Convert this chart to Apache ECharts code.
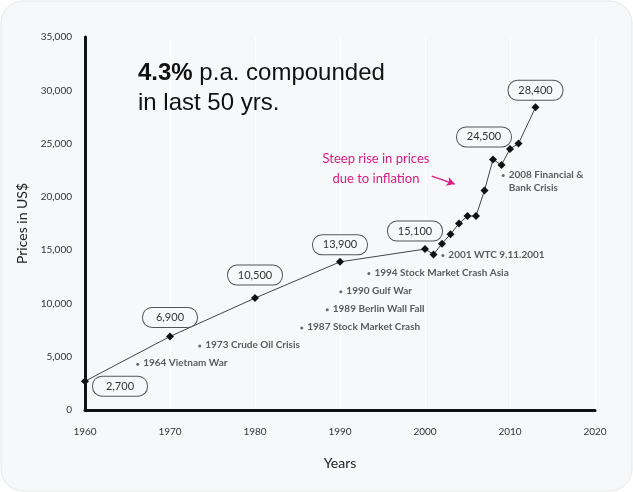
<!DOCTYPE html>
<html><head><meta charset="utf-8">
<script src="https://cdn.jsdelivr.net/npm/echarts@6/dist/echarts.min.js"></script>
<style>html,body{margin:0;padding:0;background:#ffffff;}#c{width:633px;height:492px;}</style>
</head><body><div id="c"></div>
<script>
const years = [1960,1970,1980,1990,2000,2001,2002,2003,2004,2005,2006,2007,2008,2009,2010,2011,2013];
const prices = [2700,6900,10500,13900,15100,14600,15600,16500,17500,18200,18200,20600,23500,23000,24500,25000,28400];
const boxedYears = [1960,1970,1980,1990,2000,2010,2013];
const boxOffsets = [[35,5],[0,-19],[0,-23],[0,-17],[-10,-18],[-26,-12],[0,-17]];
const eventNames = ['1964 Vietnam War','1973 Crude Oil Crisis','1987 Stock Market Crash','1989 Berlin Wall Fall','1990 Gulf War','1994 Stock Market Crash Asia','2001 WTC 9.11.2001','2008 Financial &\nBank Crisis'];
const eventX = [1966.2,1973.5,1985.5,1988.5,1990.1,1993.4,2002.1,2009.2];
const eventY = [4300,6000,7700,9400,11100,12800,14500,22000];
const xTicks = [1960,1970,1980,1990,2000,2010,2020];
const yTicks = [0,5000,10000,15000,20000,25000,30000,35000];

const fmt = v => v.toLocaleString('en-US');
const lineData = years.map((y,i) => {
  const bi = boxedYears.indexOf(y);
  const item = {value:[y, prices[i]]};
  if (bi >= 0) {
    item.label = {
      show:true, position:'inside', offset:boxOffsets[bi],
      formatter: fmt(prices[i]),
      fontFamily:'Lato', fontSize:11, color:'#333',
      backgroundColor:'#f7f8f9', borderColor:'#555', borderWidth:1, borderRadius:9,
      width:54, align:'center', lineHeight:14, padding:[3,0,2,0]
    };
  }
  return item;
});
const eventData = eventNames.map((n,i)=>({name:n, value:[eventX[i], eventY[i]]}));

const chart = echarts.init(document.getElementById('c'), null, {renderer:'canvas'});
chart.setOption({
  animation:false,
  backgroundColor:'transparent',
  graphic:[
    {type:'rect', z:-10, silent:true, shape:{x:1,y:1,width:631,height:490,r:22},
     style:{fill:'#f7f8f9', stroke:'#e6e7e8', lineWidth:1}},
    {type:'text', left:138, top:58, z:10, style:{
      text:'{b|4.3%} p.a. compounded\nin last 50 yrs.',
      rich:{b:{fontWeight:'bold', fontSize:24, fontFamily:'Liberation Sans', fill:'#111'}},
      fontSize:24, fontFamily:'Liberation Sans', fill:'#111', lineHeight:30}},
    {type:'text', left:320, top:149, z:10, style:{
      text:'Steep rise in prices\ndue to inflation', align:'center', textAlign:'center',
      fontSize:13, fontFamily:'Lato', fill:'#d81b84', lineHeight:20, width:112}}
  ],
  grid:{left:85, right:38, top:37, bottom:82},
  xAxis:{type:'value', min:1960, max:2020, interval:10,
    axisLine:{show:true, lineStyle:{color:'#111', width:3}},
    axisTick:{show:false},
    axisLabel:{fontFamily:'Lato', fontSize:10, color:'#333', margin:17, formatter:v=>String(v)},
    splitLine:{show:true, lineStyle:{color:'#ffffff', width:1}},
    name:'Years', nameLocation:'middle', nameGap:46,
    nameTextStyle:{fontFamily:'Lato', fontSize:14, color:'#222'}
  },
  yAxis:{type:'value', min:0, max:35000, interval:5000,
    axisLine:{show:true, lineStyle:{color:'#111', width:3}},
    axisTick:{show:false},
    axisLabel:{fontFamily:'Lato', fontSize:10, color:'#333', margin:13, formatter:v=>fmt(v)},
    splitLine:{show:false},
    name:'Prices in US$', nameLocation:'middle', nameGap:50, nameRotate:90,
    nameTextStyle:{fontFamily:'Lato', fontSize:14, color:'#222'}
  },
  series:[
    {type:'line', data:lineData, symbol:'diamond', symbolSize:8, showAllSymbol:true,
     itemStyle:{color:'#111'}, lineStyle:{color:'#444', width:1}, z:5,
     markLine:{silent:true, symbol:['none','arrow'], symbolSize:[7,8], label:{show:false},
       lineStyle:{color:'#d81b84', width:1.2, type:'solid'},
       data:[[{coord:[2000.8,21950]},{coord:[2003.5,21200]}]]}
    },
    {type:'scatter', data:eventData, symbol:'circle', symbolSize:3, itemStyle:{color:'#444'}, z:4,
     label:{show:true, position:[7,-6], align:'left', verticalAlign:'top',
       formatter:p=>p.name, fontFamily:'Lato', fontWeight:'bold', fontSize:10, color:'#333', lineHeight:13}
    }
  ]
});
</script></body></html>
